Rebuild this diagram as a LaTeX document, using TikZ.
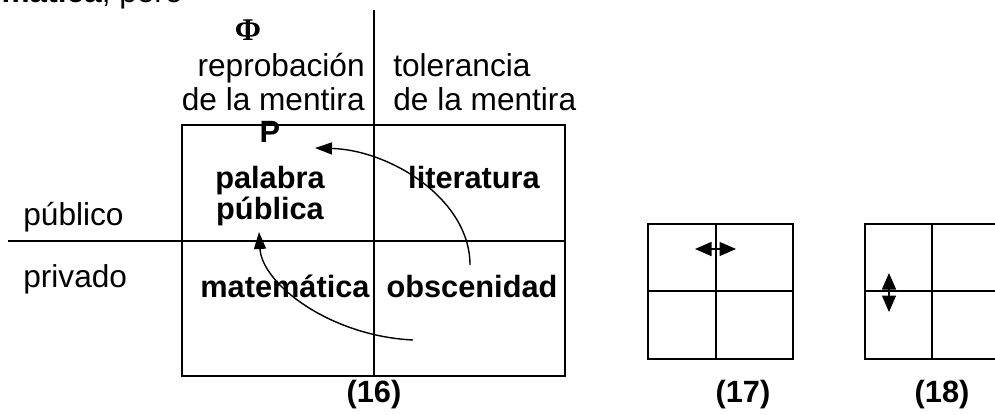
\documentclass[tikz,border=0pt]{standalone}
\usepackage{fontspec}
\setmainfont{Liberation Sans}
\newfontfamily\phifont{Liberation Serif}
\usetikzlibrary{arrows.meta}

\begin{document}
\begin{tikzpicture}[x=0.02cm, y=0.02cm,
            txt/.style={font=\fontsize{18}{21}\selectfont, inner sep=0pt},
            bold/.style={font=\fontsize{17.5}{21}\selectfont\bfseries, inner sep=0pt},
            grid/.style={line width=1pt},
            curve/.style={line width=0.8pt, -{Triangle[length=3.4mm,width=2.4mm]}},
            swap/.style={line width=0.8pt, {Triangle[length=3.3mm,width=2.8mm]}-{Triangle[length=3.3mm,width=2.8mm]}}
        ]
        \useasboundingbox (0,0) rectangle (995,414);

        % Text line cut off at the top edge
        \node[txt, anchor=base east] (prev) at (183,412) {\textbf{mática}, pero};

        % Main square with its two axes
        \draw[grid] (182,38) rectangle (565,289);
        \draw[grid] (374,38) -- (374,404);
        \draw[grid] (8,173) -- (565,173);

        % Column heads
        \node[font=\phifont\fontsize{18}{20}\selectfont\bfseries, inner sep=0pt] (phi) at (248,384) {Φ};
        \node[txt, anchor=base east] (repA) at (365,338) {reprobación};
        \node[txt, anchor=base east] (repB) at (365,304) {de la mentira};
        \node[txt, anchor=base west] (tolA) at (393,338) {tolerancia};
        \node[txt, anchor=base west] (tolB) at (393,304) {de la mentira};

        % Row heads
        \node[txt, anchor=base west] (pub) at (23,189) {público};
        \node[txt, anchor=base west] (priv) at (23,127) {privado};

        % Cells
        \node[bold, anchor=base] (p) at (270,272) {P};
        \node[bold, anchor=base] (palabra) at (270,226) {palabra};
        \node[bold, anchor=base] (publica) at (270,195) {pública};
        \node[bold, anchor=base] (lit) at (474,226) {literatura};
        \node[bold, anchor=base] (mat) at (285,117) {matemática};
        \node[bold, anchor=base] (obs) at (472,117) {obscenidad};

        % Curved arrows towards the public word
        \coordinate (litStart) at (470,149);
        \coordinate (litEnd) at (315,266);
        \coordinate (obsStart) at (413,74);
        \coordinate (obsEnd) at (259,182);
        \draw[curve] (litStart) .. controls (470,215) and (390,264) .. (litEnd);
        \draw[curve] (obsStart) .. controls (330,78) and (262,130) .. (obsEnd);

        % Small squares
        \foreach \x/\mid in {648/716, 865/932} {
                \draw[grid] (\x,55) rectangle ++(145,135);
                \draw[grid] (\mid,55) -- (\mid,190);
                \draw[grid] (\x,123) -- ++(145,0);
            }
        \coordinate (hl) at (695,165);
        \coordinate (hr) at (736,165);
        \coordinate (vt) at (889,141);
        \coordinate (vb) at (889,102);
        \draw[swap] (hl) -- (hr);
        \draw[swap] (vt) -- (vb);

        % Numbers
        \node[bold] (n16) at (374,19) {(16)};
        \node[bold] (n17) at (743,19) {(17)};
        \node[bold] (n18) at (942,19) {(18)};
    \end{tikzpicture}
\end{document}
